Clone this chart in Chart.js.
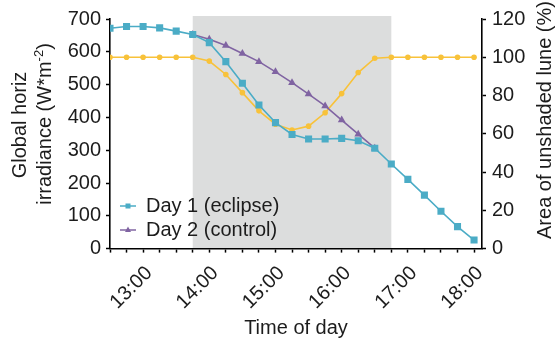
<!DOCTYPE html>
<html>
<head>
<meta charset="utf-8">
<script src="https://cdn.jsdelivr.net/npm/chart.js@4.4.1/dist/chart.umd.min.js"></script>
<style>
html,body{margin:0;padding:0;background:#fff;}
canvas{display:block;}
</style>
</head>
<body>
<canvas id="c" width="558" height="340"></canvas>
<script>
// ---- data ----
const timeLabels = ['12:30','12:45','13:00','13:15','13:30','13:45','14:00','14:15','14:30','14:45','15:00','15:15',
                    '15:30','15:45','16:00','16:15','16:30','16:45','17:00','17:15','17:30','17:45','18:00'];
const hourTicks = ['13:00','14:00','15:00','16:00','17:00','18:00'];
const day1Eclipse = [672,677,677,673,663,653,628,570,504,438,384,348,334,334,336,329,306,258,211,163,114,67,26];
const day2Control = [null,null,null,null,null,653,638,619,595,570,539,506,471,435,392,349,306,null,null,null,null,null,null];
const luneArea = [100,100,100,100,100,100,98,91,81.5,72,65,62,64,71,81,92,99.5,100,100,100,100,100,100];
const eclipseWindow = ['13:45','16:45'];
const leftTicks = [0,100,200,300,400,500,600,700];
const rightTicks = [0,20,40,60,80,100,120];
const seriesNames = ['Day 1 (eclipse)','Day 2 (control)','Area of unshaded lune'];

// ---- helpers ----
const toH = s => { const [h,m] = s.split(':').map(Number); return h + m/60; };
const fmt = v => { const h = Math.floor(v + 1e-6); const m = Math.round((v - h)*60); return h + ':' + String(m).padStart(2,'0'); };
const pts = arr => timeLabels.map((t,i)=>({x:toH(t), y:arr[i]})).filter(p=>p.y!==null);

const BLUE = '#4BACC6', PURPLE = '#8064A2', YELLOW = '#F8C23A', GRAY = '#DCDDDD';
const FONT = '"Liberation Sans", Arial, sans-serif';
const TXT = '#1c1c1c';

function icon(color, shape){
  const c = document.createElement('canvas'); c.width = 16; c.height = 10;
  const g = c.getContext('2d');
  g.strokeStyle = color; g.lineWidth = 1.5;
  g.beginPath(); g.moveTo(0,5); g.lineTo(16,5); g.stroke();
  g.fillStyle = color;
  if (shape === 'rect') { g.fillRect(5.5,2.5,5,5); }
  else { g.beginPath(); g.moveTo(8,1.5); g.lineTo(11,7); g.lineTo(5,7); g.closePath(); g.fill(); }
  return c;
}
const icons = [icon(BLUE,'rect'), icon(PURPLE,'tri')];

const bandPlugin = {
  id: 'band',
  beforeDraw(chart){
    const {ctx, chartArea, scales:{x}} = chart;
    const x0 = x.getPixelForValue(toH(eclipseWindow[0]));
    const x1 = x.getPixelForValue(toH(eclipseWindow[1]));
    ctx.save(); ctx.fillStyle = GRAY;
    ctx.fillRect(x0, chartArea.top - 3, x1 - x0, chartArea.bottom - chartArea.top + 3);
    ctx.restore();
  }
};

const legendPlace = {
  id: 'legendPlace',
  afterLayout(chart){
    const lg = chart.legend; if (!lg) return;
    lg.left = 116; lg.top = 192; lg.width = 220; lg.height = 60;
    lg.right = lg.left + lg.width; lg.bottom = lg.top + lg.height;
  }
};

const titles = {
  id: 'titles',
  afterDraw(chart){
    const ctx = chart.ctx;
    ctx.save();
    ctx.fillStyle = TXT; ctx.textBaseline = 'middle';
    const big = '20px ' + FONT, small = '13px ' + FONT;
    ctx.font = big; ctx.textAlign = 'center';
    ctx.save(); ctx.translate(20, 125); ctx.rotate(-Math.PI/2); ctx.fillText('Global horiz', 0, 0); ctx.restore();
    ctx.save(); ctx.translate(45, 124); ctx.rotate(-Math.PI/2);
    ctx.textAlign = 'left';
    const a = 'irradiance (W*m', sup = '-2', b = ')';
    ctx.font = big; const wa = ctx.measureText(a).width, wb = ctx.measureText(b).width;
    ctx.font = small; const ws = ctx.measureText(sup).width;
    let x = -(wa + ws + wb)/2;
    ctx.font = big; ctx.fillText(a, x, 0); x += wa;
    ctx.font = small; ctx.fillText(sup, x, -6); x += ws;
    ctx.font = big; ctx.fillText(b, x, 0);
    ctx.restore();
    ctx.font = big; ctx.textAlign = 'center';
    ctx.save(); ctx.translate(545, 120); ctx.rotate(-Math.PI/2); ctx.fillText('Area of unshaded lune (%)', 0, 0); ctx.restore();
    ctx.restore();
  }
};

new Chart(document.getElementById('c'), {
  type: 'line',
  data: {
    datasets: [
      { label: seriesNames[0], data: pts(day1Eclipse), yAxisID: 'y', borderColor: BLUE, backgroundColor: BLUE,
        borderWidth: 1.6, pointStyle: 'rect', pointRadius: 5, pointBorderWidth: 0, tension: 0 },
      { label: seriesNames[1], data: pts(day2Control), yAxisID: 'y', borderColor: PURPLE, backgroundColor: PURPLE,
        borderWidth: 1.6, pointStyle: 'triangle', pointRadius: 4.5, pointBorderWidth: 0, tension: 0 },
      { label: seriesNames[2], data: pts(luneArea), yAxisID: 'y2', borderColor: YELLOW, backgroundColor: YELLOW,
        borderWidth: 1.6, pointStyle: 'circle', pointRadius: 2.8, pointBorderWidth: 0, tension: 0 }
    ]
  },
  options: {
    responsive: false, animation: false, devicePixelRatio: 1,
    layout: { padding: { top: 19, left: 0, right: 0, bottom: 0 } },
    plugins: {
      tooltip: { enabled: false },
      legend: {
        position: 'chartArea', align: 'start',
        labels: {
          usePointStyle: true, pointStyleWidth: 16, padding: 4, color: TXT,
          font: { family: FONT, size: 20 },
          generateLabels: (chart) => Chart.defaults.plugins.legend.labels.generateLabels(chart)
              .filter(l => l.datasetIndex < 2)
              .map(l => Object.assign(l, { pointStyle: icons[l.datasetIndex], lineWidth: 0 }))
        }
      }
    },
    scales: {
      x: {
        type: 'linear', min: toH(timeLabels[0]), max: 18.12,
        afterFit: s => { s.height = 91.4; },
        afterBuildTicks: s => { s.ticks = timeLabels.map(t => ({ value: toH(t) })); },
        grid: { drawOnChartArea: false, drawTicks: true, tickLength: 4, tickWidth: 1.5, tickColor: '#000' },
        border: { display: true, color: '#000', width: 1.6 },
        ticks: {
          autoSkip: false, minRotation: 45, maxRotation: 45, padding: 9, labelOffset: 6, color: TXT,
          font: { family: FONT, size: 20 },
          callback: v => hourTicks.includes(fmt(v)) ? fmt(v) : ''
        },
        title: { display: true, text: 'Time of day', color: TXT, font: { family: FONT, size: 20 }, padding: { top: 0, bottom: 0 } }
      },
      y: {
        position: 'left', min: leftTicks[0], max: leftTicks[leftTicks.length-1],
        afterFit: s => { s.width = 110; },
        afterBuildTicks: s => { s.ticks = leftTicks.map(v => ({ value: v })); },
        grid: { drawOnChartArea: false, tickLength: 4, tickWidth: 1.5, tickColor: '#000' },
        border: { display: true, color: '#000', width: 1.6 },
        ticks: { padding: 5, color: TXT, font: { family: FONT, size: 20 } }
      },
      y2: {
        position: 'right', min: rightTicks[0], max: rightTicks[rightTicks.length-1],
        afterFit: s => { s.width = 76; },
        afterBuildTicks: s => { s.ticks = rightTicks.map(v => ({ value: v })); },
        grid: { drawOnChartArea: false, tickLength: 4, tickWidth: 1.5, tickColor: '#000' },
        border: { display: true, color: '#000', width: 1.6 },
        ticks: { padding: 6, color: TXT, font: { family: FONT, size: 20 } }
      }
    }
  },
  plugins: [bandPlugin, legendPlace, titles]
});
</script>
</body>
</html>
